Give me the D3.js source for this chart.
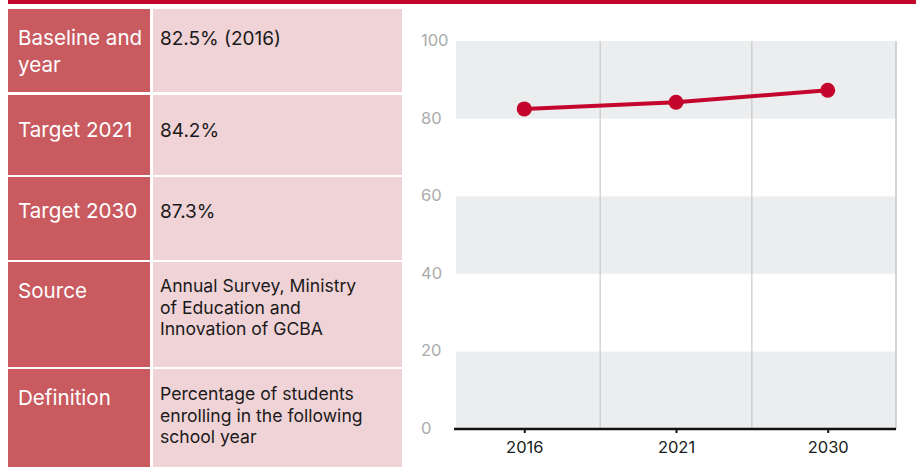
<!DOCTYPE html>
<html>
<head>
<meta charset="utf-8">
<script src="https://cdn.jsdelivr.net/npm/d3@7"></script>
<style>
  html, body { margin: 0; padding: 0; background: #fff; }
  svg { display: block; }
  text { font-family: Inter, "Noto Sans", sans-serif; }
</style>
</head>
<body>
<svg id="chart" width="916" height="467"></svg>
<script>
// ---- data ----
const rowLabels = [["Baseline and", "year"], ["Target 2021"], ["Target 2030"], ["Source"], ["Definition"]];
const rowValues = [
  ["82.5% (2016)"],
  ["84.2%"],
  ["87.3%"],
  ["Annual Survey, Ministry", "of Education and", "Innovation of GCBA"],
  ["Percentage of students", "enrolling in the following", "school year"]
];
const years = ["2016", "2021", "2030"];
const values = [82.5, 84.2, 87.3];
const yTicks = [0, 20, 40, 60, 80, 100];

// ---- layout ----
const W = 916, H = 467;
const red = "#c4062c";
const svg = d3.select("#chart");

svg.append("rect").attr("x", 8).attr("y", 0).attr("width", W - 8).attr("height", 4).attr("fill", red);

// table
const rowTops = [9, 95, 177, 262, 369];
const rowBottoms = [92, 175, 260, 367, 467];
const labelOffset = [36, 42, 41, 36, 36];
const valueOffset = [36, 42, 41, 30, 31];
const valueSize = [19, 19, 19, 17.6, 17.6];

const rows = svg.append("g").selectAll("g").data(rowLabels).join("g");
rows.append("rect")
  .attr("x", 8).attr("width", 142)
  .attr("y", (d, i) => rowTops[i]).attr("height", (d, i) => rowBottoms[i] - rowTops[i])
  .attr("fill", "#c85a60");
rows.append("rect")
  .attr("x", 153).attr("width", 249)
  .attr("y", (d, i) => rowTops[i]).attr("height", (d, i) => rowBottoms[i] - rowTops[i])
  .attr("fill", "#f0d3d6");
rows.each(function (d, i) {
  const g = d3.select(this);
  const t = g.append("text").attr("fill", "#fff").attr("font-size", 20.6)
    .attr("x", 18).attr("y", rowTops[i] + labelOffset[i]);
  d.forEach((line, j) => t.append("tspan").attr("x", 18).attr("dy", j === 0 ? 0 : 27).text(line));
  const fs = valueSize[i];
  const lh = fs === 19 ? 27 : 21.7;
  const v = g.append("text").attr("fill", "#1a1a1a").attr("font-size", fs)
    .attr("x", 160).attr("y", rowTops[i] + valueOffset[i]);
  rowValues[i].forEach((line, j) => v.append("tspan").attr("x", 160).attr("dy", j === 0 ? 0 : lh).text(line));
});

// chart
const x = d3.scalePoint().domain(years).range([456, 896]).padding(0.45);
const y = d3.scaleLinear().domain([0, 100]).range([429, 41]);
const chart = svg.append("g");

// alternating bands
const bandPairs = d3.pairs(yTicks);
chart.selectAll("rect.band").data(bandPairs).join("rect")
  .attr("class", "band")
  .attr("x", 456).attr("width", 440)
  .attr("y", d => y(d[1])).attr("height", d => y(d[0]) - y(d[1]))
  .attr("fill", (d, i) => i % 2 === 0 ? "#ecedef" : "#ffffff");

// vertical gridlines between categories + right edge
const step = x.step();
const vLines = years.map(yr => x(yr) + step / 2);
vLines[vLines.length - 1] = 896;
chart.selectAll("line.vg").data(vLines).join("line")
  .attr("class", "vg")
  .attr("x1", d => d).attr("x2", d => d)
  .attr("y1", y(100)).attr("y2", y(0))
  .attr("stroke", (d, i) => i === vLines.length - 1 ? "#c6c7cb" : "#c0c0c0")
  .attr("stroke-width", (d, i) => i === vLines.length - 1 ? 1.5 : 1);

// y labels
chart.selectAll("text.yl").data(yTicks).join("text")
  .attr("class", "yl")
  .attr("x", 421).attr("y", d => y(d) + 5)
  .attr("font-size", 16.5).attr("fill", "#ababab")
  .text(d => d);

// x axis
const xAxis = d3.axisBottom(x).tickSize(4).tickPadding(8);
const ax = chart.append("g").attr("transform", `translate(0,${y(0)})`).call(xAxis);
ax.select(".domain").attr("d", `M454,0H896`).attr("stroke", "#111").attr("stroke-width", 2.5);
ax.selectAll(".tick line").attr("stroke", "#111").attr("stroke-width", 2);
ax.selectAll(".tick text").attr("font-size", 16.5).attr("fill", "#1a1a1a")
  .attr("font-family", "Inter, 'Noto Sans', sans-serif");

// line & dots
const line = d3.line().x((d, i) => x(years[i])).y(d => y(d));
chart.append("path").datum(values)
  .attr("d", line).attr("fill", "none").attr("stroke", red).attr("stroke-width", 4);
chart.selectAll("circle").data(values).join("circle")
  .attr("cx", (d, i) => x(years[i])).attr("cy", d => y(d)).attr("r", 7.5).attr("fill", red);
</script>
</body>
</html>
